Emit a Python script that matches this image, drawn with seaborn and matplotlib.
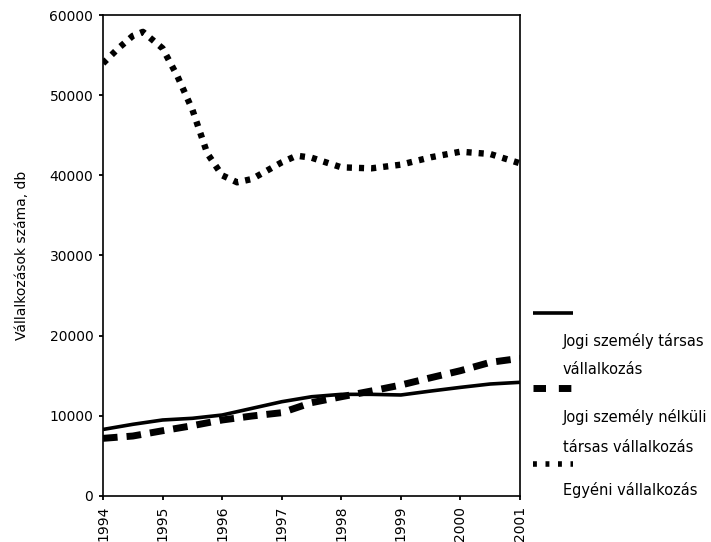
import matplotlib
matplotlib.use("Agg")
import matplotlib.pyplot as plt
from matplotlib.lines import Line2D
import numpy as np
import pandas as pd
import seaborn as sns

# settings
sns.set_style("ticks")
plt.rcParams['font.family'] = ['DejaVu Sans']
plt.rcParams['text.color'] = 'black'
plt.rcParams['axes.labelcolor'] = 'black'
plt.rcParams['xtick.color'] = 'black'
plt.rcParams['ytick.color'] = 'black'

# DATA (semi-annual / quarterly points)
evek_fel = [1994, 1994.5, 1995, 1995.5, 1996, 1996.5, 1997, 1997.5,
            1998, 1998.5, 1999, 1999.5, 2000, 2000.5, 2001]
jogi_tarsas = [8300, 8940, 9480, 9690, 10100, 10930, 11760, 12380,
               12680, 12680, 12600, 13090, 13550, 13970, 14180]
jogi_nelkuli = [7190, 7480, 8140, 8770, 9480, 9975, 10390, 11640,
                12380, 13090, 13840, 14750, 15630, 16670, 17170]

evek_egyeni = [1994, 1994.25, 1994.5, 1994.67, 1995, 1995.25, 1995.5, 1995.75,
               1996, 1996.25, 1996.5, 1996.75, 1997, 1997.25, 1997.5,
               1998, 1998.5, 1999, 1999.5, 2000, 2000.5, 2001]
egyeni = [53970, 55800, 57400, 57900, 55840, 52350, 48190, 42740,
          40000, 39130, 39540, 40580, 41620, 42450, 42200,
          41000, 40870, 41330, 42250, 42950, 42660, 41500]

ev_cimkek = ['1994', '1995', '1996', '1997', '1998', '1999', '2000', '2001']
y_tickek = [0, 10000, 20000, 30000, 40000, 50000, 60000]

cimkek = [['Jogi személy társas', 'vállalkozás'],
          ['Jogi személy nélküli', 'társas vállalkozás'],
          ['Egyéni vállalkozás']]

# styles
stilus = [dict(linewidth=2.6, linestyle='-'),
          dict(linewidth=5.0, linestyle=(0, (2.1, 1.3))),
          dict(linewidth=4.6, linestyle=(0, (0.8, 1.1)))]

fig = plt.figure(figsize=(7.11, 5.42), dpi=100)
ax = fig.add_axes([0.1449, 0.0849, 0.5865, 0.8874])

sorok = [(evek_fel, jogi_tarsas), (evek_fel, jogi_nelkuli), (evek_egyeni, egyeni)]
for (xs, ys), st in zip(sorok, stilus):
    df = pd.DataFrame({'ev': xs, 'db': ys})
    sns.lineplot(x='ev', y='db', data=df, ax=ax, color='black',
                 solid_capstyle='butt', dash_capstyle='butt',
                 solid_joinstyle='round', dash_joinstyle='round', **st)

ax.set_xlim(1994, 2001)
ax.set_ylim(0, 60000)
ax.set_xticks([int(e) for e in ev_cimkek])
ax.set_xticklabels(ev_cimkek, rotation=90, fontsize=10)
ax.set_yticks(y_tickek)
ax.set_yticklabels([str(v) for v in y_tickek], fontsize=10)
ax.tick_params(direction='out', length=3, width=1.3, color='black', pad=4)
ax.set_xlabel('')
ax.set_ylabel('Vállalkozások száma, db', fontsize=10, labelpad=15)
for sp in ax.spines.values():
    sp.set_visible(True)
    sp.set_color('black')
    sp.set_linewidth(1.2)

# legend drawn by hand (sample line above wrapped text, like the original)
W, H = 711.0, 542.0
minta_y = [313, 388, 464]
szoveg_y = [[341, 370], [417, 447], [490]]
minta_stilus = [dict(linewidth=2.6, linestyle='-'),
                dict(linewidth=5.0, linestyle=(0, (1.8, 1.85))),
                dict(linewidth=4.0, linestyle=(0, (0.7, 1.55)))]
for my, sy, cs, st in zip(minta_y, szoveg_y, cimkek, minta_stilus):
    fig.add_artist(Line2D([533 / W, 573 / W], [1 - my / H, 1 - my / H],
                          transform=fig.transFigure, color='black',
                          solid_capstyle='butt', dash_capstyle='butt', **st))
    for y, c in zip(sy, cs):
        fig.text(563 / W, 1 - y / H, c, fontsize=10.5, va='center', ha='left')

fig.savefig('out.png', dpi=100)
plt.close()
